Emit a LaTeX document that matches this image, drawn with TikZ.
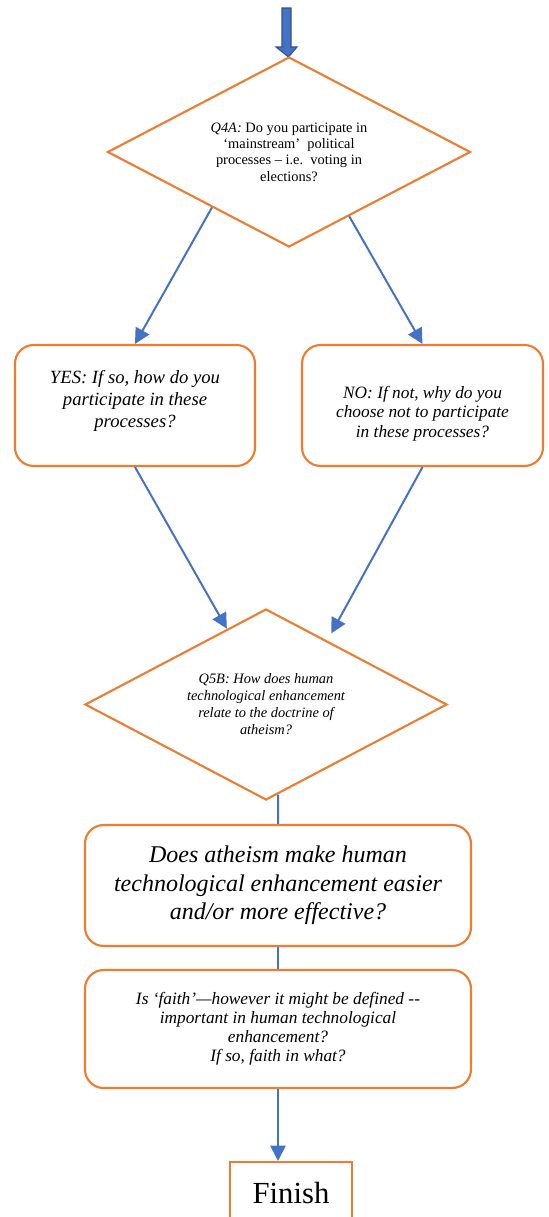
\documentclass[tikz,border=0pt]{standalone}
\usepackage{fontspec}
\setmainfont{Liberation Serif}
\usetikzlibrary{shapes.geometric,arrows.meta,calc}
\definecolor{orng}{HTML}{ED7D31}
\definecolor{blu}{HTML}{4472C4}
\definecolor{bludark}{HTML}{2F528F}
\begin{document}
\begin{tikzpicture}[x=0.75pt,y=-0.75pt,
  dia/.style={diamond, aspect=1.9, draw=orng, line width=1.6pt, inner sep=0pt, align=center},
  rbox/.style={rectangle, rounded corners=14pt, draw=orng, line width=1.6pt, align=center, inner sep=0pt},
  finbox/.style={rectangle, draw=orng, line width=1.6pt, align=center, inner sep=0pt},
  conn/.style={draw=blu, line width=1.5pt},
  arr/.style={conn, -{Triangle[width=11.5pt,length=11.5pt]}},
  blockarrow/.style={fill=blu, draw=bludark, line width=0.8pt}
]
\useasboundingbox (0,0) rectangle (549,1217);
\clip (0,0) rectangle (549,1217);

% top block arrow
\path[blockarrow] (282,8) -- (291,8) -- (291,47) -- (297,47) -- (288.5,57) -- (276,47) -- (282,47) -- cycle;

\node[dia, minimum width=272.25pt, minimum height=142.5pt,
      font=\fontsize{10.8pt}{12.2pt}\selectfont] (d1) at (289,152)
  {\textit{Q4A:} Do you participate in\\‘mainstream’\ \ political\\processes – i.e.\ \ voting in\\elections?};

\node[rbox, minimum width=180pt, minimum height=90.75pt,
      font=\fontsize{14pt}{16.5pt}\selectfont\itshape] (yes) at (135,405.5)
  {YES: If so, how do you\\participate in these\\processes?\\[-6pt]};

\node[rbox, minimum width=180.75pt, minimum height=90.75pt,
      font=\fontsize{13pt}{14.6pt}\selectfont\itshape] (no) at (422.5,405.5)
  {\rule{0pt}{21pt}NO: If not, why do you\\choose not to participate\\in these processes?};

\node[dia, minimum width=271.5pt, minimum height=143.25pt,
      font=\fontsize{10.8pt}{12.75pt}\selectfont\itshape] (d2) at (266,704.5)
  {Q5B: How does human\\technological enhancement\\relate to the doctrine of\\atheism?};

\node[rbox, minimum width=289.5pt, minimum height=90.75pt,
      font=\fontsize{18pt}{21.25pt}\selectfont\itshape] (b3) at (278,885.5)
  {Does atheism make human\\technological enhancement easier\\and/or more effective?};

\node[rbox, minimum width=289.5pt, minimum height=88.5pt,
      font=\fontsize{13pt}{14.3pt}\selectfont\itshape] (b4) at (278,1029)
  {Is ‘faith’—however it might be defined -{}-\\important in human technological\\enhancement?\\If so, faith in what?};

\node[finbox, minimum width=91.5pt, minimum height=46.5pt,
      font=\fontsize{23pt}{26pt}\selectfont] (fin) at (291,1193) {Finish};

% connectors
\draw[arr] ($(d1.west)!0.578!(d1.south)$) -- (yes.north);
\draw[arr] ($(d1.south)!0.33!(d1.east)$) -- (no.north);
\draw[arr] (yes.south) -- ($(d2.west)!0.785!(d2.north)$);
\draw[arr, shorten >=6pt] (no.south) -- ($(d2.north)!0.337!(d2.east)$);
\draw[conn] ($(d2.south)!0.066!(d2.east)$) -- (b3.north);
\draw[conn] (b3.south) -- (b4.north);
\draw[arr] (b4.south) -- (b4.south |- fin.north);
\end{tikzpicture}
\end{document}
